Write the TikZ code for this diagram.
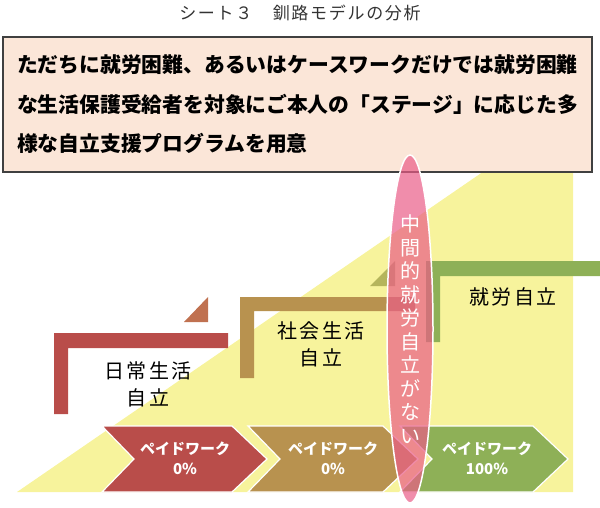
\documentclass[tikz,border=0pt]{standalone}
\usepackage{fontspec}
\setmainfont{Noto Sans CJK JP}
\usepackage{xcolor}
\usetikzlibrary{shapes.geometric}

\definecolor{boxfill}{RGB}{251,230,216}
\definecolor{rampyellow}{RGB}{247,243,156}
\definecolor{dailyred}{RGB}{185,77,74}
\definecolor{socialbrown}{RGB}{184,146,79}
\definecolor{workgreen}{RGB}{142,176,87}
\definecolor{dailytip}{RGB}{192,113,80}
\definecolor{socialtip}{RGB}{181,181,92}
\definecolor{gappink}{RGB}{234,92,135}

\begin{document}
\begin{tikzpicture}[
    x=1pt, y=-1pt,
    box/.style={rectangle, draw=black!75, line width=1.2pt, fill=boxfill, align=left, minimum width=589pt, minimum height=135pt, inner sep=0pt, font=\bfseries\fontsize{20.8}{39.5}\selectfont},
    chevron/.style={draw=white, line width=1.2pt},
    paytext/.style={align=center, text=white, font=\bfseries\fontsize{15}{20}\selectfont},
    stagetext/.style={align=center, font=\addfontfeature{LetterSpace=12}\fontsize{20}{27}\selectfont},
    gap/.style={ellipse, draw=white, line width=1.5pt, fill=gappink, fill opacity=0.7, text opacity=1, text=white, minimum width=46pt, minimum height=348pt, inner sep=0pt, align=center, font=\fontsize{20}{23.5}\selectfont}
  ]
    \useasboundingbox (0,0) rectangle (600,507);
    % background ramp
    \fill[rampyellow] (17,492) -- (573,110) -- (573,492) -- cycle;
    \node[text=black!80, font=\addfontfeature{LetterSpace=10}\fontsize{17}{17}\selectfont] (title) at (300,13) {シート３　釧路モデルの分析};
    \node[box] (intro) at (297.5,104.5) {ただちに就労困難、あるいはケースワークだけでは就労困難\\な生活保護受給者を対象にご本人の「ステージ」に応じた多\\様な自立支援プログラムを用意};
    % stage steps
    \fill[dailyred] (54,414) |- (228,333) -- (228,348) -| (68,414) -- cycle;
    \fill[dailytip] (184,322) -- (208,297) -- (208,322) -- cycle;
    \fill[socialbrown] (240,378) |- (415,297) -- (415,311) -| (254,378) -- cycle;
    \fill[socialtip] (370,286) -- (395,261) -- (395,286) -- cycle;
    \fill[workgreen] (426,342) |- (600,261) -- (600,276) -| (440,342) -- cycle;
    \node[stagetext] (daily) at (148,384) {日常生活\\自立};
    \node[stagetext] (social) at (321,344) {社会生活\\自立};
    \node[stagetext] (work) at (513,297) {就労自立};
    % paid work chevrons
    \draw[chevron, fill=dailyred] (102,426) -- (232,426) -- (267,459) -- (232,492) -- (102,492) -- (134,459) -- cycle;
    \draw[chevron, fill=socialbrown] (248,426) -- (383,426) -- (418,459) -- (383,492) -- (248,492) -- (280,459) -- cycle;
    \draw[chevron, fill=workgreen] (400,426) -- (533,426) -- (568,459) -- (533,492) -- (400,492) -- (432,459) -- cycle;
    \node[paytext] (pay1) at (185,458) {ペイドワーク\\0\%};
    \node[paytext] (pay2) at (333,458) {ペイドワーク\\0\%};
    \node[paytext] (pay3) at (487,458) {ペイドワーク\\100\%};
    % missing middle stage
    \node[gap] (nogap) at (410,329) {中\\間\\的\\就\\労\\自\\立\\が\\な\\い};
\end{tikzpicture}
\end{document}
